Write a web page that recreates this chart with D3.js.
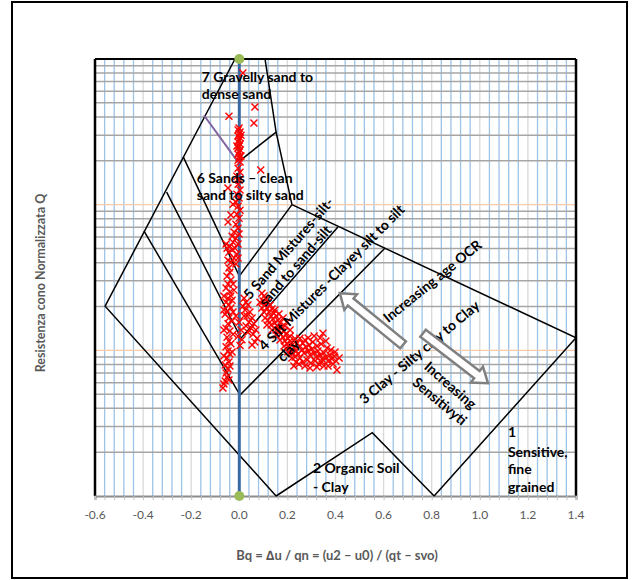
<!DOCTYPE html>
<html>
<head>
<meta charset="utf-8">
<script src="https://cdn.jsdelivr.net/npm/d3@7/dist/d3.min.js"></script>
<style>
  body { margin: 0; background: #fff; }
  text { font-family: Lato, "Open Sans", sans-serif; }
</style>
</head>
<body>
<svg id="chart" width="637" height="580"></svg>
<script>
// ---- Data -------------------------------------------------------------
// CPTu samples: pore pressure ratio Bq and normalised cone resistance Q
const sampleBq = [
  // upper column (sands)
  -0.001,-0.005,0.003,-0.001,-0.005,0.003,-0.001,-0.005,0.003,-0.001,-0.005,0.003,-0.001,-0.005,0.003,-0.001,-0.005,0.003,0.007,-0.010,0.007,
  0.015,0.065,-0.043,0.061,0.089,-0.047,
  -0.005,0.003,-0.010,-0.001,-0.005,0.003,-0.010,-0.001,-0.014,-0.005,0.003,-0.010,-0.001,
  -0.047,-0.014,-0.005,-0.022,-0.030,-0.014,-0.026,-0.039,-0.018,-0.030,-0.043,-0.010,-0.022,-0.035,-0.014,-0.005,-0.001,-0.047,
  -0.026,-0.035,-0.055,-0.051,-0.005,
  // lower column
  -0.043,-0.039,-0.051,-0.035,-0.047,-0.055,-0.039,-0.064,-0.047,-0.030,-0.055,-0.043,-0.035,-0.051,-0.059,-0.043,-0.030,-0.047,
  -0.055,-0.039,-0.026,-0.051,-0.043,-0.035,-0.055,-0.047,-0.039,-0.051,-0.043,-0.059,-0.047,-0.055,-0.051,-0.059,-0.068,-0.064,
  -0.001,0.007,-0.005,0.011,0.003,-0.014,
  -0.026,-0.022,-0.064,-0.035,-0.026,-0.064,-0.030,-0.064,-0.039,-0.043,
  // sand mixtures
  0.020,0.028,0.015,0.036,0.024,0.044,0.032,0.053,0.040,0.061,0.049,0.069,0.057,0.036,0.074,0.065,0.053,0.028,0.020,
  // silt mixtures band
  0.094,0.103,0.111,0.099,0.119,0.107,0.128,0.115,0.136,0.124,0.144,0.132,0.153,0.140,0.161,0.148,0.169,0.157,0.178,0.165,
  0.186,0.173,0.194,0.182,0.202,0.190,0.211,0.198,0.219,0.207,0.227,0.215,0.236,0.223,0.244,0.232,0.252,0.261,0.269,0.277,
  0.286,0.294,0.302,0.311,0.319,0.327,0.336,0.344,0.352,0.360,0.369,0.377,0.385,0.394,0.402,0.252,0.265,0.282,0.298,0.315,
  0.331,0.352,0.406,0.240,0.265,0.290,0.211,0.232,0.252,0.190,0.211,0.153,0.132,0.119,0.103,0.086,0.094,0.236,0.219,0.348,
  0.273,0.306,0.323,0.340,0.365,0.381,0.398,0.415,0.390,0.369,0.344,0.323,0.294,0.273,0.248,0.227,0.360,0.336,0.311,0.286,
  0.202,0.186,0.169,0.153,0.136,0.115,0.107,0.148,0.165,0.182,0.198
];
const sampleQ = [
  336,325,315,305,296,287,277,269,261,253,245,237,230,222,216,209,202,196,300,253,216,
  800,469,405,363,173,130,
  178,167,157,147,138,126,118,111,104,97.7,91.7,86.1,80.8,
  75.9,73.5,69.0,64.8,60.8,58.9,55.3,51.9,50.3,48.8,47.2,45.8,43.0,40.3,39.1,53.6,62.8,41.6,
  100.8,85.0,53.6,50.3,43.0,
  36.7,34.4,32.3,30.4,28.5,26.8,25.1,23.6,22.8,22.1,21.4,20.5,19.5,18.6,17.7,16.7,15.9,15.2,
  14.2,13.6,12.9,12.3,11.6,11.1,10.6,9.89,9.43,8.86,8.31,7.93,7.44,6.99,6.56,6.16,5.52,5.88,
  15.6,13.8,12.5,11.8,10.8,17.2,
  28.5,25.9,18.9,23.6,18.3,13.8,9.74,9.14,7.81,6.26,
  22.8,21.4,20.1,20.5,18.9,18.3,17.2,16.7,15.6,15.2,14.2,13.8,12.9,13.3,12.1,11.4,10.9,14.7,17.2,
  24.7,23.6,22.5,21.8,21.4,20.5,20.5,19.5,19.2,18.3,18.0,17.2,17.2,16.4,16.1,15.4,15.4,14.7,14.5,13.8,
  13.6,12.9,12.9,12.3,12.1,11.6,11.6,11.1,10.9,10.4,10.4,9.89,9.89,9.43,9.43,9.0,10.7,10.05,9.58,10.55,
  9.89,9.28,10.2,9.58,9.0,9.89,9.28,8.73,9.58,9.0,8.45,9.28,8.73,9.14,8.45,8.86,8.31,8.58,8.18,8.45,
  8.05,7.81,7.33,11.2,11.2,10.9,12.5,12.0,12.1,14.7,13.8,13.8,14.9,16.1,18.3,21.4,19.5,8.31,8.86,13.1,
  11.77,11.40,10.71,11.05,10.38,10.05,9.74,8.86,8.05,7.81,8.31,7.69,7.57,7.81,8.05,7.81,11.58,12.14,12.53,12.14,
  9.74,10.71,11.77,12.73,13.78,14.91,16.66,18.9,17.74,16.66,15.64
];

// Zone boundaries, vertices as [Bq, Q]
const outerLeft      = [[-0.018, 1000], [-0.558, 20.1], [0.153, 1]];
const outerRightTop  = [[0.107, 1000], [0.153, 315], [0.219, 100]];
const outerRight     = [[0.219, 100], [1.4, 12.2], [0.81, 1]];
const organicZone    = [[0.153, 1], [0.553, 2.72], [0.81, 1]];
const border76       = [[-0.005, 196], [0.153, 315]];
const border76Left   = [[-0.147, 411], [-0.005, 196]];
const border65       = [[-0.233, 213], [0.0, 32.3], [0.219, 100]];
const border54       = [[-0.302, 122], [0.007, 12.1], [0.41, 70.2]];
const border43       = [[-0.396, 65.9], [0.003, 4.93], [0.606, 50.4]];
const zeroLine       = [[0, 1], [0, 1000]];

// Axis ticks
const xTickValues = [-0.6, -0.4, -0.2, 0.0, 0.2, 0.4, 0.6, 0.8, 1.0, 1.2, 1.4];
const xTickLabels = ["-0.6", "-0.4", "-0.2", "0.0", "0.2", "0.4", "0.6", "0.8", "1.0", "1.2", "1.4"];

// Zone labels: text lines, anchor [Bq, Q], rotation
const zoneLabels = [
  { text: "7  Gravelly sand to", at: [-0.156, 697], rot: 0, anchor: "start" },
  { text: "dense sand", at: [-0.156, 535], rot: 0, anchor: "start" },
  { text: "6  Sands \u2013 clean", at: [-0.177, 141], rot: 0, anchor: "start" },
  { text: "sand to silty sand", at: [-0.177, 107.5], rot: 0, anchor: "start" },
  { text: "5 Sand Mistures-silt-", at: [0.220, 47.7], rot: -49, anchor: "middle" },
  { text: "sand to sand-silt", at: [0.248, 36.1], rot: -49, anchor: "middle" },
  { text: "4 Silt Mistures -Clayey silt to silt", at: [0.398, 29.9], rot: -45, anchor: "middle" },
  { text: "clay", at: [0.219, 9.43], rot: -45, anchor: "middle" },
  { text: "Increasing age OCR", at: [0.816, 28.1], rot: -39, anchor: "middle" },
  { text: "3 Clay - Silty clay to Clay", at: [0.762, 9.14], rot: -40, anchor: "middle" },
  { text: "Increasing", at: [0.864, 5.43], rot: 41, anchor: "middle" },
  { text: "Sensitivyti", at: [0.820, 4.21], rot: 40, anchor: "middle" },
  { text: "1", at: [1.117, 2.54], rot: 0, anchor: "start" },
  { text: "Sensitive,", at: [1.117, 1.85], rot: 0, anchor: "start" },
  { text: "fine", at: [1.117, 1.416], rot: 0, anchor: "start" },
  { text: "grained", at: [1.117, 1.065], rot: 0, anchor: "start" },
  { text: "2 Organic Soil", at: [0.306, 1.438], rot: 0, anchor: "start" },
  { text: "- Clay", at: [0.306, 1.065], rot: 0, anchor: "start" }
];

// Trend arrows: from tail to tip, [Bq, Q]
const trendArrows = [
  { from: [0.681, 10.9], to: [0.418, 24.7] },
  { from: [0.764, 13.1], to: [1.034, 5.95] }
];

// ---- Chart ------------------------------------------------------------
const svg = d3.select("#chart");
const plot = { left: 95, right: 576, top: 59, bottom: 496 };

const x = d3.scaleLinear().domain([-0.6, 1.4]).range([plot.left, plot.right]);
const y = d3.scaleLog().domain([1, 1000]).range([plot.bottom, plot.top]);

// outer chart frame
svg.append("rect")
  .attr("x", 12).attr("y", 2).attr("width", 615).attr("height", 576)
  .attr("fill", "#fff").attr("stroke", "#000").attr("stroke-width", 2);

const grid = svg.append("g");

// vertical gridlines every 0.04, majors every 0.2
const xGrid = d3.range(0, 51).map(i => Math.round((-0.6 + i * 0.04) * 100) / 100);
const isMajorX = v => Math.abs(Math.round(v * 5) - v * 5) < 1e-6;
grid.selectAll("line.vminor").data(xGrid.filter(v => !isMajorX(v)))
  .join("line")
  .attr("x1", d => x(d)).attr("x2", d => x(d))
  .attr("y1", plot.top).attr("y2", plot.bottom)
  .attr("stroke", "#9dc3e6").attr("stroke-width", 1.3);
grid.selectAll("line.vmajor").data(xGrid.filter(v => isMajorX(v)))
  .join("line")
  .attr("x1", d => x(d)).attr("x2", d => x(d))
  .attr("y1", plot.top).attr("y2", plot.bottom)
  .attr("stroke", "#d9d9d9").attr("stroke-width", 1.3);

// horizontal log gridlines
const yMinor = [];
[1, 10, 100].forEach(dec => { for (let k = 2; k <= 9; k++) yMinor.push(dec * k); });
grid.selectAll("line.hminor").data(yMinor)
  .join("line")
  .attr("x1", plot.left).attr("x2", plot.right)
  .attr("y1", d => y(d)).attr("y2", d => y(d))
  .attr("stroke", "#a6a6a6").attr("stroke-width", 1.5);
grid.selectAll("line.hmajor").data([10, 100])
  .join("line")
  .attr("x1", plot.left).attr("x2", plot.right)
  .attr("y1", d => y(d)).attr("y2", d => y(d))
  .attr("stroke", "#f8cbad").attr("stroke-width", 1.3);

// plot area border
svg.append("line").attr("x1", plot.left).attr("x2", plot.right)
  .attr("y1", plot.top).attr("y2", plot.top).attr("stroke", "#000").attr("stroke-width", 2);
svg.append("line").attr("x1", plot.left).attr("x2", plot.left)
  .attr("y1", plot.top).attr("y2", plot.bottom).attr("stroke", "#000").attr("stroke-width", 2.5);
svg.append("line").attr("x1", plot.right).attr("x2", plot.right)
  .attr("y1", plot.top).attr("y2", plot.bottom).attr("stroke", "#000").attr("stroke-width", 2.5);

// x axis
const xAxis = d3.axisBottom(x)
  .tickValues(xGrid)
  .tickSize(4)
  .tickFormat(() => "");
const axisG = svg.append("g").attr("transform", `translate(0,${plot.bottom})`).call(xAxis);
axisG.select(".domain").attr("stroke", "#8c8c8c").attr("stroke-width", 2);
axisG.selectAll(".tick line").attr("stroke", "#bfbfbf");
svg.append("g").selectAll("text").data(xTickValues)
  .join("text")
  .attr("x", d => x(d)).attr("y", 519)
  .attr("text-anchor", "middle")
  .attr("font-size", 12).attr("fill", "#595959")
  .text((d, i) => xTickLabels[i]);

// zone boundaries
const line = d3.line().x(d => x(d[0])).y(d => y(d[1]));
const zones = svg.append("g").attr("fill", "none").attr("stroke", "#000").attr("stroke-width", 1.5);
[outerLeft, outerRightTop, outerRight, organicZone, border76, border65, border54, border43]
  .forEach(p => zones.append("path").attr("d", line(p)));

// Bq = 0 reference line with end markers
svg.append("path").attr("d", line(zeroLine))
  .attr("fill", "none").attr("stroke", "#3a6aa3").attr("stroke-width", 3);
svg.append("path").attr("d", line(border76Left))
  .attr("fill", "none").attr("stroke", "#8064a2").attr("stroke-width", 2);

// samples
const marks = svg.append("g").attr("stroke", "#ff0000").attr("stroke-width", 1.4);
sampleBq.forEach((b, i) => {
  const px = x(b), py = y(sampleQ[i]), s = 3.5;
  marks.append("path").attr("d", `M${px - s},${py - s}L${px + s},${py + s}M${px - s},${py + s}L${px + s},${py - s}`);
});

svg.append("g").selectAll("circle").data(zeroLine)
  .join("circle")
  .attr("cx", d => x(d[0])).attr("cy", d => y(d[1])).attr("r", 5)
  .attr("fill", "#9bbb59");

// zone labels
svg.append("g").selectAll("text").data(zoneLabels)
  .join("text")
  .attr("transform", d => `translate(${x(d.at[0])},${y(d.at[1])}) rotate(${d.rot})`)
  .attr("text-anchor", d => d.anchor)
  .attr("font-size", 14).attr("font-weight", "bold").attr("fill", "#000")
  .text(d => d.text);

// hollow arrows
trendArrows.forEach(a => {
  const x0 = x(a.from[0]), y0 = y(a.from[1]), x1 = x(a.to[0]), y1 = y(a.to[1]);
  const len = Math.hypot(x1 - x0, y1 - y0);
  const ang = Math.atan2(y1 - y0, x1 - x0) * 180 / Math.PI;
  const w = 4.5, h = 10, L = 14;
  const pts = [[0, -w], [len - L, -w], [len - L, -h], [len, 0], [len - L, h], [len - L, w], [0, w]];
  svg.append("polygon")
    .attr("points", pts.map(p => p.join(",")).join(" "))
    .attr("transform", `translate(${x0},${y0}) rotate(${ang})`)
    .attr("fill", "#fff").attr("stroke", "#808080").attr("stroke-width", 2.5);
});

// axis titles
svg.append("text")
  .attr("x", 337).attr("y", 560).attr("text-anchor", "middle")
  .attr("font-size", 13).attr("font-weight", "bold").attr("fill", "#595959")
  .text("Bq = \u2206u / qn =  (u2 \u2013 u0) / (qt \u2013 svo)");
svg.append("text")
  .attr("transform", "translate(45,283) rotate(-90)").attr("text-anchor", "middle")
  .attr("font-size", 12.5).attr("font-weight", "bold").attr("fill", "#595959")
  .text("Resistenza cono Normalizzata Q");
</script>
</body>
</html>
